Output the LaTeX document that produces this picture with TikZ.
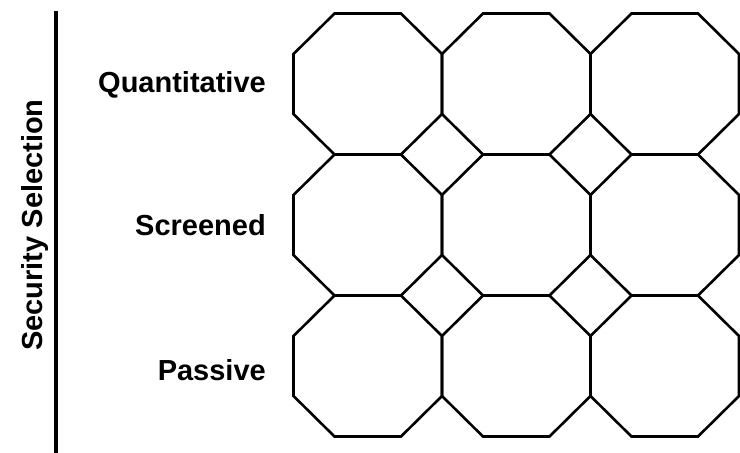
\documentclass[tikz,border=0pt]{standalone}
\usepackage{fontspec}
\setmainfont{Liberation Sans}
\begin{document}
\begin{tikzpicture}[x=1pt,y=-1pt,
  octo/.style={draw=black,line width=2.6pt,line join=miter},
  rowlabel/.style={font=\fontsize{29}{34}\selectfont\bfseries,inner sep=0pt,anchor=base east},
  axislabel/.style={font=\fontsize{29}{34}\selectfont\bfseries,inner sep=0pt,anchor=base,rotate=90}]
\useasboundingbox (0,0) rectangle (740,453);
% axis line
\coordinate (axtop) at (56,11);
\coordinate (axbot) at (56,453);
\draw[line width=3.3pt] (axtop) -- (axbot);
\node[axislabel] (sec) at (42,225) {Security Selection};
% row labels
\node[rowlabel] (quant) at (266,92) {Quantitative};
\node[rowlabel] (scr) at (266,235.5) {Screened};
\node[rowlabel] (pas) at (266,380) {Passive};
% octagon grid
\def\Lx{293.5}\def\Ty{13.5}\def\W{148.5}\def\H{141}\def\cx{41}\def\cy{40.5}
\foreach \i in {0,1,2}{
  \foreach \j in {0,1,2}{
    \pgfmathsetmacro{\L}{\Lx+\i*\W}
    \pgfmathsetmacro{\T}{\Ty+\j*\H}
    \coordinate (oct-\i-\j) at (\L+0.5*\W,\T+0.5*\H);
    \draw[octo] (\L+\cx,\T) -- (\L+\W-\cx,\T) -- (\L+\W,\T+\cy) -- (\L+\W,\T+\H-\cy)
      -- (\L+\W-\cx,\T+\H) -- (\L+\cx,\T+\H) -- (\L,\T+\H-\cy) -- (\L,\T+\cy) -- cycle;
  }
}
\end{tikzpicture}
\end{document}
